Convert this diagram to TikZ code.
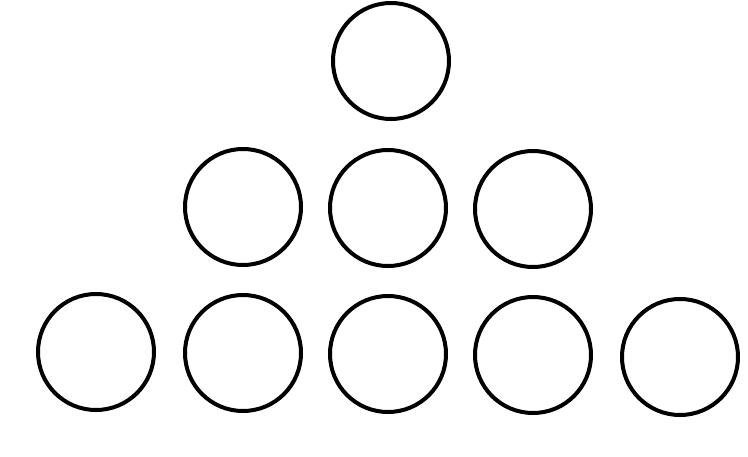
\documentclass[tikz,border=0pt]{standalone}
\begin{document}
\begin{tikzpicture}[x=1pt,y=-1pt,
  ball/.style={circle,draw=black,line width=4pt,minimum size=116pt,inner sep=0pt}]
\useasboundingbox (0,0) rectangle (748,456);
\node[ball] (t) at (391,61) {};
\node[ball] (m1) at (243,207) {};
\node[ball] (m2) at (388,208) {};
\node[ball] (m3) at (533,209) {};
\node[ball] (b1) at (96,352) {};
\node[ball] (b2) at (243,353) {};
\node[ball] (b3) at (388,354) {};
\node[ball] (b4) at (533,355) {};
\node[ball] (b5) at (680,357) {};
\end{tikzpicture}
\end{document}
